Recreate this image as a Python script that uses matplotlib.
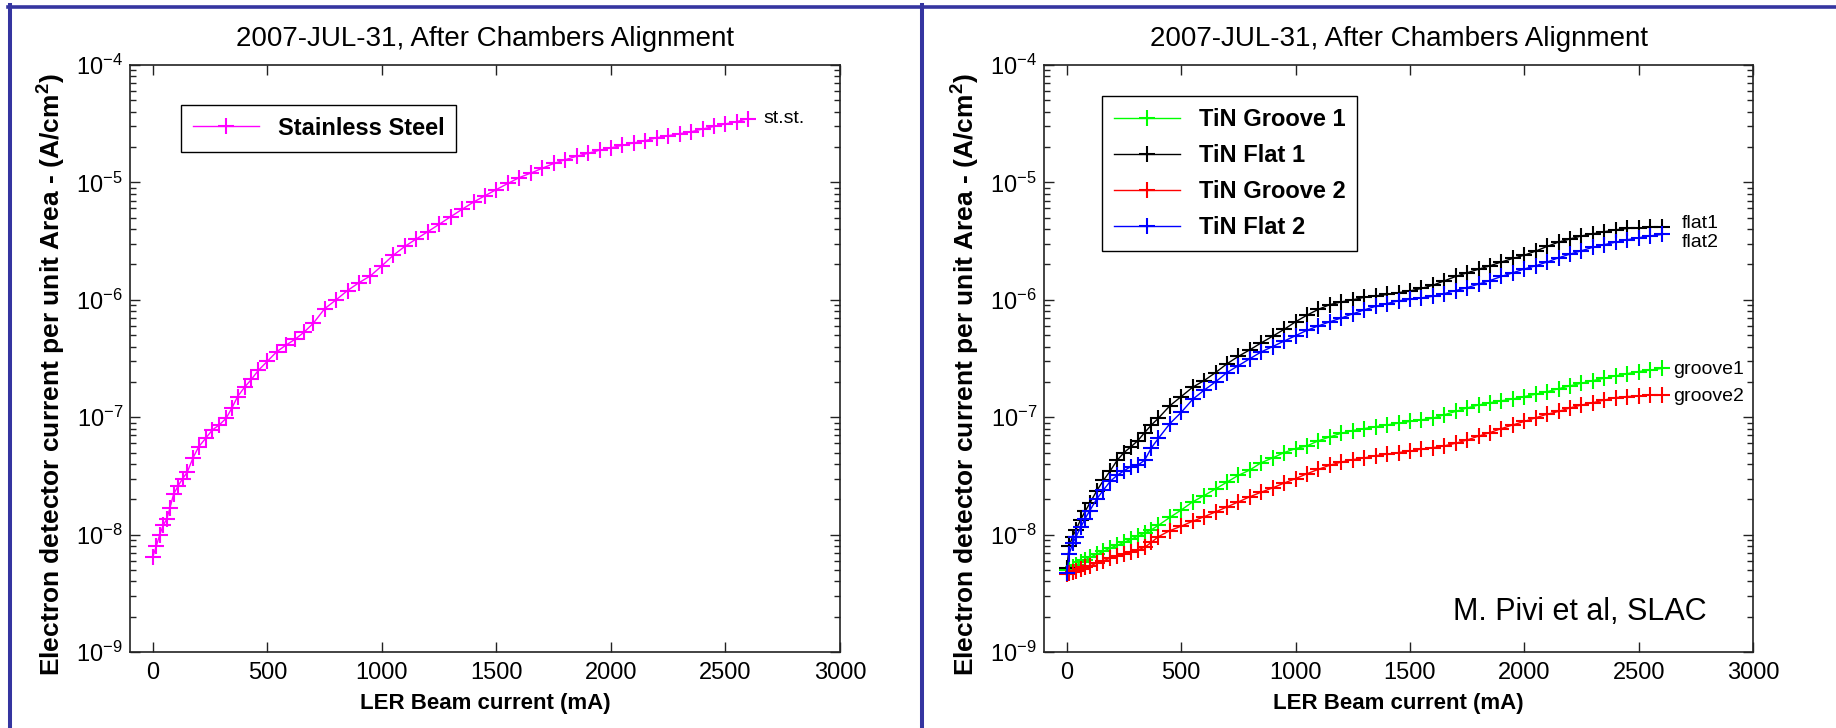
import matplotlib
matplotlib.use('Agg')
import matplotlib.pyplot as plt
from matplotlib.lines import Line2D
from matplotlib.ticker import LogLocator, NullFormatter, NullLocator

plt.rcParams['font.family'] = ['Liberation Sans', 'DejaVu Sans']
plt.rcParams['mathtext.default'] = 'regular'

# ---- data ----
ss_current = [0, 15, 30, 45, 60, 75, 90, 110, 130, 150, 175, 200, 230, 260, 290, 320, 345, 370,
              400, 430, 460, 500, 540, 580, 620, 660, 700, 750, 800, 850, 900, 950, 1000, 1050,
              1100, 1150, 1200, 1250, 1300, 1350, 1400, 1450, 1500, 1550, 1600, 1650, 1700, 1750,
              1800, 1850, 1900, 1950, 2000, 2050, 2100, 2150, 2200, 2250, 2300, 2350, 2400, 2450,
              2500, 2550, 2600]
stainless = [6.5e-9, 8.0e-9, 1.0e-8, 1.2e-8, 1.35e-8, 1.7e-8, 2.2e-8, 2.6e-8, 3.0e-8, 3.4e-8,
             4.5e-8, 5.6e-8, 6.6e-8, 7.8e-8, 8.6e-8, 9.8e-8, 1.2e-7, 1.5e-7, 1.8e-7, 2.1e-7,
             2.5e-7, 3.0e-7, 3.6e-7, 4.1e-7, 4.6e-7, 5.3e-7, 6.3e-7, 8.4e-7, 1.0e-6, 1.2e-6,
             1.4e-6, 1.6e-6, 1.95e-6, 2.4e-6, 2.85e-6, 3.3e-6, 3.8e-6, 4.4e-6, 5.1e-6, 5.9e-6,
             6.8e-6, 7.7e-6, 8.7e-6, 9.8e-6, 1.1e-5, 1.2e-5, 1.32e-5, 1.45e-5, 1.56e-5, 1.67e-5,
             1.77e-5, 1.88e-5, 1.97e-5, 2.07e-5, 2.17e-5, 2.27e-5, 2.4e-5, 2.5e-5, 2.6e-5,
             2.7e-5, 2.85e-5, 3.0e-5, 3.15e-5, 3.3e-5, 3.5e-5]

tin_current = [0, 10, 25, 40, 60, 80, 100, 130, 160, 190, 220, 250, 280, 310, 340, 370, 400, 450,
               500, 550, 600, 650, 700, 750, 800, 850, 900, 950, 1000, 1050, 1100, 1150, 1200,
               1250, 1300, 1350, 1400, 1450, 1500, 1550, 1600, 1650, 1700, 1750, 1800, 1850, 1900,
               1950, 2000, 2050, 2100, 2150, 2200, 2250, 2300, 2350, 2400, 2450, 2500, 2550, 2600]
groove1 = [5.0e-9, 5.1e-9, 5.3e-9, 5.5e-9, 5.8e-9, 6.1e-9, 6.4e-9, 6.8e-9, 7.2e-9, 7.7e-9, 8.1e-9,
           8.6e-9, 9.1e-9, 9.7e-9, 1.03e-8, 1.1e-8, 1.2e-8, 1.4e-8, 1.62e-8, 1.9e-8, 2.15e-8,
           2.45e-8, 2.8e-8, 3.2e-8, 3.55e-8, 4.1e-8, 4.5e-8, 5.0e-8, 5.4e-8, 5.7e-8, 6.3e-8,
           6.8e-8, 7.3e-8, 7.7e-8, 8.0e-8, 8.3e-8, 8.6e-8, 8.9e-8, 9.2e-8, 9.5e-8, 9.8e-8,
           1.05e-7, 1.12e-7, 1.2e-7, 1.27e-7, 1.33e-7, 1.38e-7, 1.43e-7, 1.5e-7, 1.57e-7,
           1.65e-7, 1.75e-7, 1.85e-7, 1.95e-7, 2.05e-7, 2.15e-7, 2.25e-7, 2.35e-7, 2.45e-7,
           2.52e-7, 2.6e-7]
flat1 = [5.2e-9, 8.0e-9, 9.6e-9, 1.1e-8, 1.34e-8, 1.58e-8, 1.85e-8, 2.35e-8, 2.9e-8, 3.5e-8,
         4.3e-8, 5.0e-8, 5.6e-8, 6.3e-8, 7.4e-8, 8.6e-8, 9.8e-8, 1.25e-7, 1.5e-7, 1.8e-7,
         2.05e-7, 2.4e-7, 2.85e-7, 3.3e-7, 3.75e-7, 4.3e-7, 4.9e-7, 5.6e-7, 6.5e-7, 7.4e-7,
         8.3e-7, 9.1e-7, 9.6e-7, 1.0e-6, 1.05e-6, 1.08e-6, 1.11e-6, 1.15e-6, 1.19e-6, 1.25e-6,
         1.33e-6, 1.45e-6, 1.58e-6, 1.7e-6, 1.82e-6, 1.95e-6, 2.1e-6, 2.25e-6, 2.4e-6, 2.6e-6,
         2.85e-6, 3.1e-6, 3.3e-6, 3.5e-6, 3.65e-6, 3.8e-6, 3.95e-6, 4.05e-6, 4.1e-6, 4.15e-6,
         4.2e-6]
groove2 = [4.6e-9, 4.7e-9, 4.8e-9, 4.9e-9, 5.1e-9, 5.3e-9, 5.4e-9, 5.7e-9, 6.0e-9, 6.3e-9, 6.6e-9,
           6.9e-9, 7.1e-9, 7.4e-9, 7.8e-9, 8.6e-9, 9.6e-9, 1.08e-8, 1.18e-8, 1.3e-8, 1.42e-8,
           1.56e-8, 1.72e-8, 1.9e-8, 2.1e-8, 2.3e-8, 2.5e-8, 2.75e-8, 3.0e-8, 3.3e-8, 3.6e-8,
           3.9e-8, 4.15e-8, 4.35e-8, 4.5e-8, 4.7e-8, 4.85e-8, 5.0e-8, 5.15e-8, 5.35e-8, 5.5e-8,
           5.7e-8, 6.0e-8, 6.4e-8, 6.9e-8, 7.4e-8, 8.0e-8, 8.6e-8, 9.2e-8, 9.9e-8, 1.06e-7,
           1.12e-7, 1.2e-7, 1.27e-7, 1.33e-7, 1.4e-7, 1.47e-7, 1.5e-7, 1.52e-7, 1.54e-7, 1.55e-7]
flat2 = [4.7e-9, 6.8e-9, 8.4e-9, 9.6e-9, 1.15e-8, 1.37e-8, 1.6e-8, 2.0e-8, 2.4e-8, 2.85e-8, 3.2e-8,
         3.5e-8, 3.8e-8, 3.9e-8, 4.3e-8, 5.5e-8, 6.6e-8, 8.8e-8, 1.1e-7, 1.42e-7, 1.7e-7, 2.0e-7,
         2.4e-7, 2.75e-7, 3.15e-7, 3.6e-7, 4.0e-7, 4.45e-7, 4.95e-7, 5.5e-7, 6.0e-7, 6.5e-7,
         7.0e-7, 7.6e-7, 8.2e-7, 8.8e-7, 9.3e-7, 9.8e-7, 1.01e-6, 1.04e-6, 1.07e-6, 1.13e-6,
         1.2e-6, 1.27e-6, 1.36e-6, 1.46e-6, 1.58e-6, 1.7e-6, 1.83e-6, 1.95e-6, 2.1e-6, 2.28e-6,
         2.45e-6, 2.62e-6, 2.8e-6, 2.95e-6, 3.1e-6, 3.25e-6, 3.38e-6, 3.5e-6, 3.6e-6]

tin_series = [('TiN Groove 1', groove1, '#00ff00'),
              ('TiN Flat 1', flat1, 'black'),
              ('TiN Groove 2', groove2, '#ff0000'),
              ('TiN Flat 2', flat2, '#0000ff')]
end_labels = [('flat1', 2690, 4.5e-6), ('flat2', 2690, 3.05e-6),
              ('groove1', 2650, 2.57e-7), ('groove2', 2650, 1.49e-7)]

title = '2007-JUL-31, After Chambers Alignment'
ylabel = 'Electron detector current per unit Area - (A/cm$^2$)'
xlabel = 'LER Beam current (mA)'
xticks = [0, 500, 1000, 1500, 2000, 2500, 3000]

W, H = 1836, 728
fig = plt.figure(figsize=(W / 100, H / 100), dpi=100)
ax1 = fig.add_axes([130 / W, 1 - 652 / H, 710 / W, 587 / H])
ax2 = fig.add_axes([1044 / W, 1 - 652 / H, 709 / W, 587 / H])


def style_axes(ax):
    ax.set_yscale('log')
    ax.set_xlim(-100, 3000)
    ax.set_ylim(1e-9, 1e-4)
    ax.set_xticks(xticks)
    ax.xaxis.set_minor_locator(NullLocator())
    ax.yaxis.set_major_locator(LogLocator(base=10, numticks=10))
    ax.yaxis.set_minor_locator(LogLocator(base=10, subs=range(2, 10), numticks=10))
    ax.yaxis.set_minor_formatter(NullFormatter())
    ax.tick_params(which='both', direction='in', top=True, right=True, width=1.0, colors='#222222',
                   labelcolor='black')
    ax.tick_params(which='major', length=7, labelsize=17)
    ax.tick_params(which='minor', length=4)
    ax.tick_params(axis='x', pad=7)
    ax.tick_params(axis='y', pad=5)
    for s in ax.spines.values():
        s.set_linewidth(1.2)
        s.set_color('#222222')
    ax.set_title(title, fontsize=20, pad=14)
    ax.set_ylabel(ylabel, fontsize=19, fontweight='bold')
    ax.yaxis.set_label_coords(-0.088, 0.472)
    ax.set_xlabel(xlabel, fontsize=16, fontweight='bold')
    ax.xaxis.set_label_coords(0.5, -0.07)


# left panel: stainless steel
ax1.plot(ss_current, stainless, color='#ff00ff', marker='+', markersize=11, markeredgewidth=1.5,
         linewidth=1.0, label='Stainless Steel')
style_axes(ax1)
ax1.text(2665, 3.5e-5, 'st.st.', fontsize=14, ha='left', va='center')
ax1.legend(loc='upper left', bbox_to_anchor=(0.072, 0.932), borderaxespad=0, fancybox=False,
           edgecolor='black', framealpha=1, prop={'size': 17, 'weight': 'bold'}, handlelength=2.8,
           borderpad=0.5)

# right panel: TiN coatings
for name, vals, col in tin_series:
    ax2.plot(tin_current, vals, color=col, marker='+', markersize=11, markeredgewidth=1.5,
             linewidth=1.0, label=name)
style_axes(ax2)
for txt, xv, yv in end_labels:
    ax2.text(xv, yv, txt, fontsize=14, ha='left', va='center')
ax2.text(0.935, 0.068, 'M. Pivi et al, SLAC', transform=ax2.transAxes, fontsize=22,
         ha='right', va='center')
ax2.legend(loc='upper left', bbox_to_anchor=(0.082, 0.947), borderaxespad=0, fancybox=False,
           edgecolor='black', framealpha=1, prop={'size': 17, 'weight': 'bold'}, handlelength=2.8,
           borderpad=0.5, labelspacing=0.55)

# blue slide frame
frame_col = '#3535a0'
fig.add_artist(Line2D([8 / W, 1], [1 - 6.5 / H, 1 - 6.5 / H], transform=fig.transFigure,
                      color=frame_col, linewidth=2.6))
fig.add_artist(Line2D([10 / W, 10 / W], [0, 1 - 5 / H], transform=fig.transFigure,
                      color=frame_col, linewidth=2.9))
fig.add_artist(Line2D([922 / W, 922 / W], [0, 1 - 5 / H], transform=fig.transFigure,
                      color=frame_col, linewidth=2.9))

fig.savefig('out.png', dpi=100)
